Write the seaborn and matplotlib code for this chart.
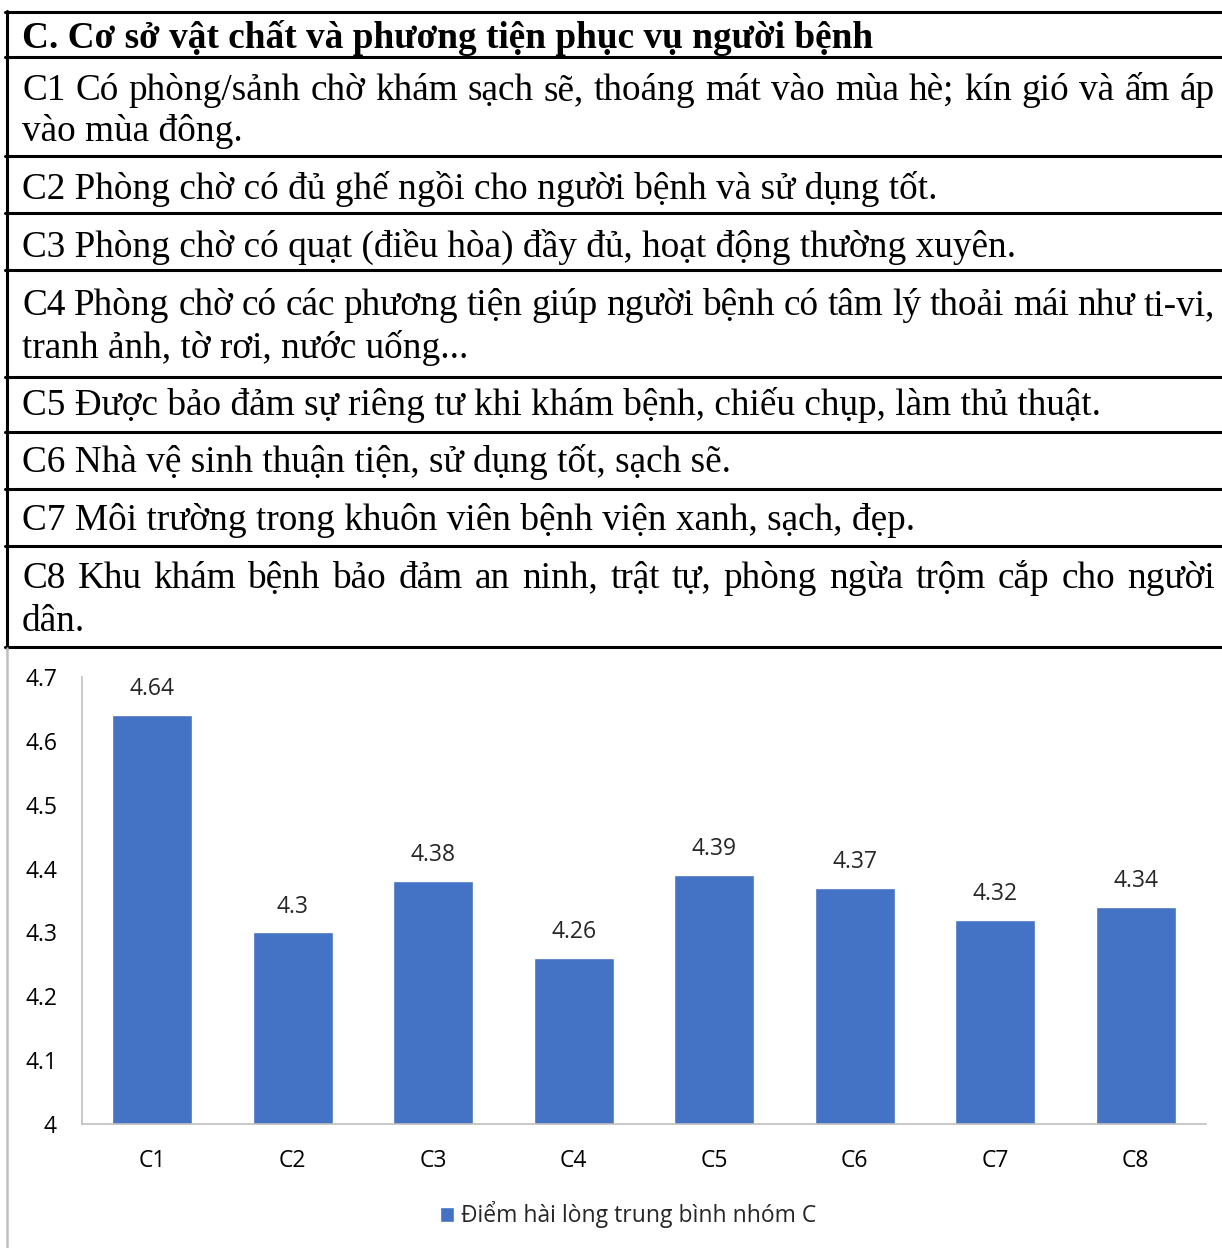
import matplotlib
matplotlib.use("Agg")
import matplotlib.pyplot as plt
from matplotlib.lines import Line2D
import pandas as pd
import seaborn as sns

# table text
title = "C. Cơ sở vật chất và phương tiện phục vụ người bệnh"
rows = [
    ["C1 Có phòng/sảnh chờ khám sạch sẽ, thoáng mát vào mùa hè; kín gió và ấm áp", "vào mùa đông."],
    ["C2 Phòng chờ có đủ ghế ngồi cho người bệnh và sử dụng tốt."],
    ["C3 Phòng chờ có quạt (điều hòa) đầy đủ, hoạt động thường xuyên."],
    ["C4 Phòng chờ có các phương tiện giúp người bệnh có tâm lý thoải mái như ti-vi,", "tranh ảnh, tờ rơi, nước uống..."],
    ["C5 Được bảo đảm sự riêng tư khi khám bệnh, chiếu chụp, làm thủ thuật."],
    ["C6 Nhà vệ sinh thuận tiện, sử dụng tốt, sạch sẽ."],
    ["C7 Môi trường trong khuôn viên bệnh viện xanh, sạch, đẹp."],
    ["C8 Khu khám bệnh bảo đảm an ninh, trật tự, phòng ngừa trộm cắp cho người", "dân."],
]

# chart data
categories = ["C1", "C2", "C3", "C4", "C5", "C6", "C7", "C8"]
scores = [4.64, 4.3, 4.38, 4.26, 4.39, 4.37, 4.32, 4.34]
series_name = "Điểm hài lòng trung bình nhóm C"
yticks = [4, 4.1, 4.2, 4.3, 4.4, 4.5, 4.6, 4.7]

W, H = 1222, 1248
sns.set_theme(style="white")
plt.rcParams["font.family"] = ["Open Sans", "DejaVu Sans"]

fig = plt.figure(figsize=(W / 100, H / 100), dpi=100)
renderer = fig.canvas.get_renderer()


def fx(px):
    return px / W


def fy(py):
    return 1 - py / H


serif = ["Liberation Serif", "DejaVu Serif"]
fsize = 26.8


def draw_line(text, y, justify=False, bold=False, x0=22, x1=1215):
    kw = dict(family=serif, fontsize=fsize, va="baseline", ha="left",
              fontweight="bold" if bold else "normal", color="black")
    if not justify:
        fig.text(fx(x0), fy(y), text, **kw)
        return
    words = text.split(" ")
    items = []
    total = 0
    for w in words:
        t = fig.text(0, 0, w, **kw)
        wd = t.get_window_extent(renderer).width
        items.append((t, wd))
        total += wd
    gap = (x1 - x0 - total) / (len(words) - 1)
    x = x0
    for t, wd in items:
        t.set_position((fx(x), fy(y)))
        x += wd + gap


# table
borders = [12, 57, 156, 213, 270, 377, 432, 489, 546, 647]
for b in borders:
    fig.add_artist(Line2D([fx(5), fx(W)], [fy(b), fy(b)], color="black", lw=2.2))
fig.add_artist(Line2D([fx(6.5), fx(6.5)], [fy(11), fy(648)], color="black", lw=2.2))
fig.add_artist(Line2D([fx(6.5), fx(6.5)], [fy(648), fy(H)], color="#BFBFBF", lw=1.8))

draw_line(title, 48, bold=True)
baselines = [[100, 141], [199], [257], [315, 358], [415], [472], [530], [588, 631]]
for lines, ys in zip(rows, baselines):
    for i, (ln, y) in enumerate(zip(lines, ys)):
        draw_line(ln, y, justify=(len(lines) > 1 and i == 0))

# chart
df = pd.DataFrame({"cat": categories, "score": scores, "series": series_name})
ax = fig.add_axes([fx(82), fy(1124), (1206 - 82) / W, (1124 - 677) / H])
sns.barplot(data=df, x="cat", y="score", hue="series", palette=["#4472C4"],
            width=0.57, ax=ax, saturation=1)
ax.set_ylim(4, 4.7)
ax.set_xlim(-0.5, 7.5)
ax.set_yticks(yticks)
ax.set_yticklabels([f"{v:g}" for v in yticks])
ax.set_xlabel("")
ax.set_ylabel("")
for s in ["top", "right"]:
    ax.spines[s].set_visible(False)
for s in ["left", "bottom"]:
    ax.spines[s].set_color("#BFBFBF")
    ax.spines[s].set_linewidth(1.2)
ax.tick_params(axis="both", length=0, labelsize=16.5, colors="black")
ax.tick_params(axis="y", pad=18)
ax.tick_params(axis="x", pad=18)
for c in ax.containers:
    ax.bar_label(c, fmt="%g", padding=10, fontsize=16.5)

ax.legend(loc="center", bbox_to_anchor=(fx(628), fy(1215)), bbox_transform=fig.transFigure,
          frameon=False, fontsize=16.5, handlelength=0.6, handleheight=0.6,
          handletextpad=0.3)

fig.savefig("out.png", dpi=100)
